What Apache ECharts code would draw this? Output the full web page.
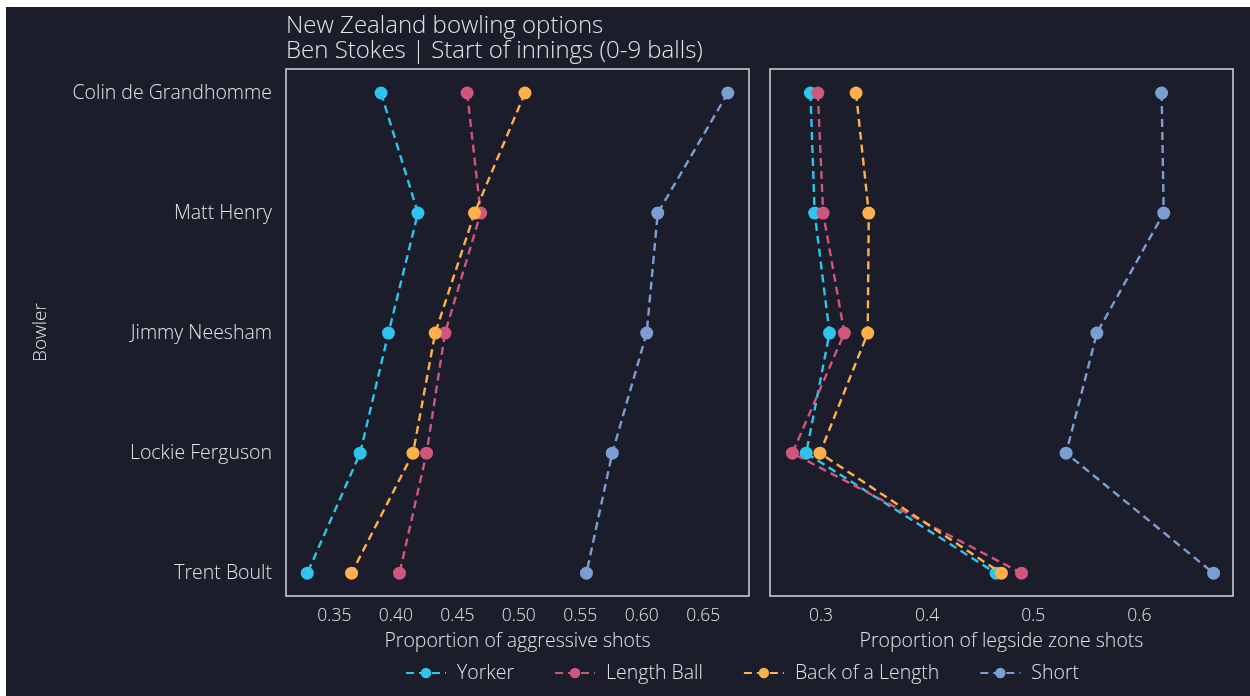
<!DOCTYPE html>
<html>
<head>
<meta charset="utf-8">
<script src="https://cdn.jsdelivr.net/npm/echarts@6/dist/echarts.min.js"></script>
<style>
html,body{margin:0;padding:0;background:#ffffff;width:1250px;height:696px;overflow:hidden;}
#chart{position:absolute;left:6px;top:7px;width:1244px;height:689px;background:#1b1d2b;}
</style>
</head>
<body>
<div id="chart"></div>
<script>
const bowlers = ["Colin de Grandhomme","Matt Henry","Jimmy Neesham","Lockie Ferguson","Trent Boult"];
const seriesNames = ["Yorker","Length Ball","Back of a Length","Short"];
// Proportion of aggressive shots
const aggYorker = [0.388,0.418,0.394,0.371,0.328];
const aggLength = [0.458,0.469,0.440,0.425,0.403];
const aggBack   = [0.505,0.464,0.432,0.414,0.364];
const aggShort  = [0.670,0.613,0.604,0.576,0.555];
// Proportion of legside zone shots
const legYorker = [0.290,0.294,0.308,0.286,0.465];
const legLength = [0.297,0.302,0.322,0.273,0.489];
const legBack   = [0.333,0.345,0.344,0.299,0.470];
const legShort  = [0.621,0.623,0.560,0.531,0.670];
const aggTicks = [0.35,0.40,0.45,0.50,0.55,0.60,0.65];
const legTicks = [0.3,0.4,0.5,0.6];

const colors = ["#2ec4ee","#d1567d","#ffb04a","#7b9fd2"];
const FONT = "Open Sans";
const FW = 300;
const txt = "#e4e4e4";

const chart = echarts.init(document.getElementById('chart'));
const gridBox = {show:true, borderColor:"#d8d8d8", borderWidth:1.5, backgroundColor:"transparent"};

function yAxis(gi, showLabels){
  return {
    type:'value', gridIndex:gi, inverse:true, min:-0.2, max:4.19,
    axisLine:{show:false}, axisTick:{show:false}, splitLine:{show:false},
    axisLabel:{show:showLabels, customValues:[0,1,2,3,4], formatter:v=>bowlers[Math.round(v)],
      color:txt, fontFamily:FONT, fontWeight:FW, fontSize:19.5, margin:14},
    name: showLabels ? 'Bowler' : '', nameLocation:'middle', nameGap:236,
    nameTextStyle:{color:txt, fontFamily:FONT, fontWeight:FW, fontSize:19}
  };
}
function xAxis(gi, mn, mx, ticks, dec, name){
  return {
    type:'value', gridIndex:gi, min:mn, max:mx,
    axisLine:{show:false}, axisTick:{show:false}, splitLine:{show:false},
    axisLabel:{customValues:ticks, formatter:v=>v.toFixed(dec), color:txt, fontFamily:FONT, fontWeight:FW, fontSize:17.5, margin:11},
    name:name, nameLocation:'middle', nameGap:35,
    nameTextStyle:{color:txt, fontFamily:FONT, fontWeight:FW, fontSize:19.5}
  };
}
const aggData = [aggYorker,aggLength,aggBack,aggShort];
const legData = [legYorker,legLength,legBack,legShort];
const series = [];
[aggData, legData].forEach((set, gi)=>{
  set.forEach((vals, si)=>{
    series.push({
      name: seriesNames[si], type:'line', xAxisIndex:gi, yAxisIndex:gi,
      data: vals.map((v,i)=>[v,i]),
      symbol:'circle', symbolSize:13,
      lineStyle:{color:colors[si], width:2.4, type:[8,5]},
      itemStyle:{color:colors[si]},
      emphasis:{disabled:true}, animation:false, z:2+si
    });
  });
});

chart.setOption({
  backgroundColor:'#1b1d2b',
  animation:false,
  title:{
    text:'New Zealand bowling options\nBen Stokes | Start of innings (0-9 balls)',
    left:275, top:2,
    textStyle:{color:txt, fontFamily:FONT, fontSize:24, fontWeight:FW, lineHeight:25}
  },
  legend:{
    data:seriesNames, left:394, top:651, itemWidth:40, itemHeight:13, itemGap:40,
    textStyle:{color:txt, fontFamily:FONT, fontWeight:FW, fontSize:19.5, padding:[0,0,0,6]},
    inactiveColor:'#555'
  },
  grid:[
    Object.assign({left:280, top:62, width:463, height:527}, gridBox),
    Object.assign({left:764, top:62, width:463, height:527}, gridBox)
  ],
  xAxis:[
    xAxis(0, 0.3107, 0.6872, aggTicks, 2, 'Proportion of aggressive shots'),
    xAxis(1, 0.2519, 0.6883, legTicks, 1, 'Proportion of legside zone shots')
  ],
  yAxis:[yAxis(0,true), yAxis(1,false)],
  series:series
});
</script>
</body>
</html>
